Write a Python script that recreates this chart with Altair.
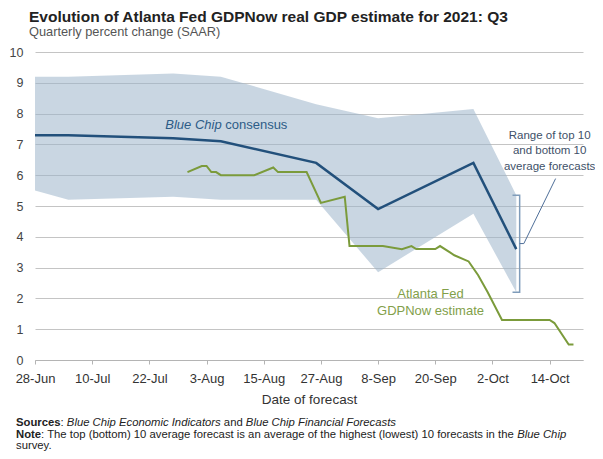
import altair as alt
import pandas as pd

FONT = "Liberation Sans"

# ---------------- data ----------------
bc_dates = ["2021-06-28", "2021-07-05", "2021-07-27", "2021-08-06",
            "2021-08-26", "2021-09-08", "2021-09-28", "2021-10-07"]
bc_consensus = [7.3, 7.3, 7.2, 7.1, 6.4, 4.9, 6.4, 3.6]
bc_top10 = [9.2, 9.2, 9.3, 9.2, 8.3, 7.85, 8.15, 5.35]
bc_bottom10 = [5.5, 5.2, 5.3, 5.2, 5.2, 2.85, 4.75, 2.2]

gdp_dates = ["2021-07-30", "2021-08-02", "2021-08-03", "2021-08-04", "2021-08-05",
             "2021-08-06", "2021-08-13", "2021-08-17", "2021-08-18", "2021-08-24",
             "2021-08-27", "2021-09-01", "2021-09-02", "2021-09-09", "2021-09-13",
             "2021-09-15", "2021-09-16", "2021-09-20", "2021-09-21", "2021-09-23",
             "2021-09-24", "2021-09-27", "2021-09-29", "2021-10-01", "2021-10-04",
             "2021-10-14", "2021-10-15", "2021-10-18", "2021-10-19"]
gdp_values = [6.1, 6.3, 6.3, 6.1, 6.1, 6.0, 6.0, 6.25, 6.1, 6.1,
              5.1, 5.3, 3.7, 3.7, 3.6, 3.7, 3.6, 3.6, 3.7, 3.5,
              3.4, 3.2, 2.75, 2.2, 1.3, 1.3, 1.2, 0.5, 0.5]

x_ticks = ["2021-06-28", "2021-07-10", "2021-07-22", "2021-08-03", "2021-08-15",
           "2021-08-27", "2021-09-08", "2021-09-20", "2021-10-02", "2021-10-14"]
x_domain = ["2021-06-28", "2021-10-21"]
y_ticks = [0, 1, 2, 3, 4, 5, 6, 7, 8, 9, 10]

# bracket marking the top-10 / bottom-10 range on the last survey, and its pointer
bracket_dates = ["2021-10-06T05:00:00Z", "2021-10-07T17:00:00Z",
                 "2021-10-07T17:00:00Z", "2021-10-06T05:00:00Z"]
bracket_values = [5.35, 5.35, 2.2, 2.2]
pointer_dates = ["2021-10-07T17:00:00Z", "2021-10-08T14:00:00Z", "2021-10-15T06:00:00Z"]
pointer_values = [3.78, 3.78, 5.89]

# annotation anchors (date, value)
bc_label_at = ("2021-07-25T08:00:00Z", 7.63)
gdp_label_at = ("2021-09-19T00:00:00Z", [2.14, 1.60])
gdp_label_lines = ["Atlanta Fed", "GDPNow estimate"]
range_label_at = ("2021-10-14T00:00:00Z", [7.27, 6.79, 6.27])
range_label_lines = ["Range of top 10", "and bottom 10", "average forecasts"]

title_text = "Evolution of Atlanta Fed GDPNow real GDP estimate for 2021: Q3"
subtitle_text = "Quarterly percent change (SAAR)"
x_title = "Date of forecast"
foot1 = [("Sources", "b"), (": ", "r"), ("Blue Chip Economic Indicators", "i"),
         (" and ", "r"), ("Blue Chip Financial Forecasts", "i")]
foot2 = [("Note", "b"),
         (": The top (bottom) 10 average forecast is an average of the highest (lowest) 10 forecasts in the ", "r"),
         ("Blue Chip", "i")]
foot3 = [("survey.", "r")]

# ---------------- text metrics (Arial / Liberation Sans) ----------------
REG = {' ': 278, '(': 333, ')': 333, ',': 278, '-': 333, '.': 278, ':': 278}
BOLD = {' ': 278, '(': 333, ')': 333, ',': 278, '-': 333, '.': 278, ':': 333}
for c in "0123456789":
    REG[c] = 556
    BOLD[c] = 556
for c, w in zip("ABCDEFGHIJKLMNOPQRSTUVWXYZ",
                [667, 667, 722, 722, 667, 611, 778, 722, 278, 500, 667, 556, 833,
                 722, 778, 667, 778, 722, 667, 611, 722, 667, 944, 667, 667, 611]):
    REG[c] = w
for c, w in zip("abcdefghijklmnopqrstuvwxyz",
                [556, 556, 500, 556, 556, 278, 556, 556, 222, 222, 500, 222, 833,
                 556, 556, 556, 556, 333, 500, 278, 556, 500, 722, 500, 500, 500]):
    REG[c] = w
for c, w in zip("ABCDEFGHIJKLMNOPQRSTUVWXYZ",
                [722, 722, 722, 722, 667, 611, 778, 722, 278, 556, 722, 611, 833,
                 722, 778, 667, 778, 722, 667, 611, 722, 667, 944, 667, 667, 611]):
    BOLD[c] = w
for c, w in zip("abcdefghijklmnopqrstuvwxyz",
                [556, 611, 556, 611, 556, 333, 611, 611, 278, 278, 556, 278, 889,
                 611, 611, 611, 611, 389, 556, 333, 611, 556, 778, 556, 556, 500]):
    BOLD[c] = w


def tw(s, size, bold=False):
    t = BOLD if bold else REG
    return sum(t.get(c, 556) for c in s) * size / 1000.0


def txt(label, x, y, size, color, weight="normal", style="normal", align="left"):
    return alt.Chart(pd.DataFrame({"label": [label]})).mark_text(
        align=align, baseline="middle", font=FONT, fontSize=size,
        fontWeight=weight, fontStyle=style, color=color
    ).encode(x=alt.value(x), y=alt.value(y), text="label:N")


def rich(segs, x0, y, size, color):
    out = []
    x = x0
    for s, kind in segs:
        bold = kind == "b"
        lead = len(s) - len(s.lstrip())
        core = s.strip()
        if core:
            out.append(txt(core, x + tw(s[:lead], size, bold), y, size, color,
                           weight="bold" if bold else "normal",
                           style="italic" if kind == "i" else "normal"))
        x += tw(s, size, bold)
    return out


def dt(s):
    ts = pd.Timestamp(s)
    return alt.DateTime(year=ts.year, month=ts.month, date=ts.day, utc=True)


# ---------------- scales / axes ----------------
x_scale = alt.Scale(type="utc", domain=[dt(d) for d in x_domain])
y_scale = alt.Scale(domain=[0, 10], nice=False, zero=False)

x_axis = alt.Axis(values=[dt(d) for d in x_ticks],
                  labelExpr="utcFormat(datum.value, '%-d-%b')",
                  grid=False, domainColor="#b4b4b4", tickColor="#b4b4b4", tickSize=4,
                  labelFont=FONT, labelFontSize=13, labelColor="#333333",
                  labelBaseline="middle", labelPadding=14, labelFlush=False,
                  labelOverlap=False,
                  title=x_title, titleFont=FONT, titleFontSize=13.5,
                  titleFontWeight="normal", titleColor="#333333",
                  titleBaseline="middle", titleY=39)
y_axis = alt.Axis(values=y_ticks, grid=True, gridColor="#c4c4c4", gridWidth=1,
                  domain=False, ticks=False, tickSize=0, labelPadding=12,
                  labelOverlap=False, labelFlush=False,
                  labelFont=FONT, labelFontSize=12.5, labelColor="#444444",
                  title=None)


def X(field):
    return alt.X(field, scale=x_scale, axis=x_axis)


def Y(field):
    return alt.Y(field, scale=y_scale, axis=y_axis)


bc_df = pd.DataFrame({"date": bc_dates, "consensus": bc_consensus,
                      "top": bc_top10, "bottom": bc_bottom10})
gdp_df = pd.DataFrame({"date": gdp_dates, "value": gdp_values})
br_df = pd.DataFrame({"date": bracket_dates, "value": bracket_values,
                      "ord": list(range(len(bracket_dates)))})
pt_df = pd.DataFrame({"date": pointer_dates, "value": pointer_values,
                      "ord": list(range(len(pointer_dates)))})

band = alt.Chart(bc_df).mark_area(color="#9db5cb", opacity=0.55).encode(
    x=X("date:T"), y=Y("bottom:Q"), y2="top:Q")

consensus = alt.Chart(bc_df).mark_line(color="#22507b", strokeWidth=2.5).encode(
    x=X("date:T"), y=Y("consensus:Q"))

gdp = alt.Chart(gdp_df).mark_line(color="#7b9b3b", strokeWidth=2).encode(
    x=X("date:T"), y=Y("value:Q"))

bracket = alt.Chart(br_df).mark_line(color="#7f9cba", strokeWidth=1.5).encode(
    x=X("date:T"), y=Y("value:Q"), order="ord:Q")

pointer = alt.Chart(pt_df).mark_line(color="#4f6f99", strokeWidth=1).encode(
    x=X("date:T"), y=Y("value:Q"), order="ord:Q")

layers = [band, consensus, gdp, bracket, pointer]

# Blue Chip consensus label
bc_col = "#2d5c87"
bc_lab = pd.DataFrame({"date": [bc_label_at[0]], "value": [bc_label_at[1]],
                       "a": ["Blue Chip"], "b": ["consensus"]})
layers.append(alt.Chart(bc_lab).mark_text(
    align="left", baseline="middle", font=FONT, fontSize=13, fontStyle="italic",
    color=bc_col).encode(x=X("date:T"), y=Y("value:Q"), text="a:N"))
layers.append(alt.Chart(bc_lab).mark_text(
    align="left", baseline="middle", font=FONT, fontSize=13, color=bc_col,
    dx=tw("Blue Chip ", 13)).encode(x=X("date:T"), y=Y("value:Q"), text="b:N"))

# GDPNow label
g_lab = pd.DataFrame({"date": [gdp_label_at[0]] * 2, "value": gdp_label_at[1],
                      "t": gdp_label_lines})
layers.append(alt.Chart(g_lab).mark_text(
    align="center", baseline="middle", font=FONT, fontSize=13, color="#82a04a"
).encode(x=X("date:T"), y=Y("value:Q"), text="t:N"))

# Range label
r_lab = pd.DataFrame({"date": [range_label_at[0]] * 3, "value": range_label_at[1],
                      "t": range_label_lines})
layers.append(alt.Chart(r_lab).mark_text(
    align="center", baseline="middle", font=FONT, fontSize=11.5, color="#3e5068"
).encode(x=X("date:T"), y=Y("value:Q"), text="t:N"))

# titles and footnotes (positions relative to plot origin)
layers.append(txt(title_text, -6, -35.5, 15.5, "#222222", weight="bold"))
layers.append(txt(subtitle_text, -6, -20, 12.8, "#555555"))
layers += rich(foot1, -19, 371.3, 11.3, "#222222")
layers += rich(foot2, -19, 382.8, 11.3, "#222222")
layers += rich(foot3, -19, 394.3, 11.3, "#222222")

chart = alt.layer(*layers).properties(
    width=548, height=308,
    autosize=alt.AutoSizeParams(type="none"),
    padding={"left": 27, "top": 44, "right": 12, "bottom": 91},
    background="white",
).configure_view(stroke=None)

chart.save("out.html", embed_options={"renderer": "svg", "actions": False})
